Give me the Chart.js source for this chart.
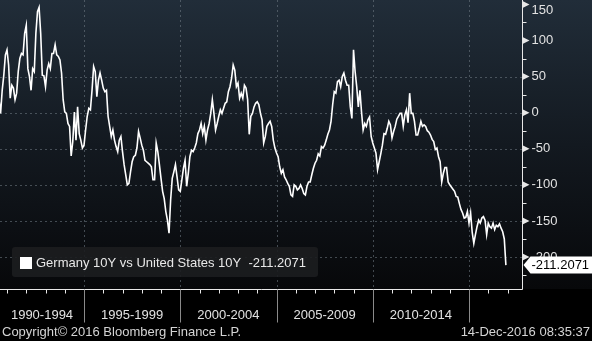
<!DOCTYPE html>
<html>
<head>
<meta charset="utf-8">
<script src="https://cdn.jsdelivr.net/npm/chart.js@4.4.1/dist/chart.umd.min.js"></script>
<style>
  html, body { margin: 0; padding: 0; background: #000; }
</style>
</head>
<body>
<canvas id="spreadChart" width="592" height="341"></canvas>
<script>
// monthly readings of the Bund - Treasury 10Y spread (bp), starting Aug 1990
const startYear = 1990;
const startMonth = 8;

const spread1990 = [18, -1, 31, 52, 80, 87, 66, 20, 38, 34, 18, 27, 57, 75, 82, 80, 110, 121, 61, 50,
  31, 61, 57, 110, 140, 146, 110, 52, 51, 36, 59, 68, 61, 82, 82, 94, 80, 78, 73, 55,
  18, 1, -1, -15, -19, -60, -40, 1, -38, 8, -29, -38, -49];
const spread1995 = [-45, -24, -5, 6, 4, 31, 64, 57, 22, 45, 55, 45, 34, 29, 31, -5, -19, -33, -24, -38,
  -47, -54, -38, -33, -54, -72, -86, -100, -98, -82, -68, -61, -59, -49, -26, -35, -45, -52, -66, -68,
  -70, -72, -75, -93, -93, -42, -54, -72, -91, -109, -119, -137, -149, -167, -121, -91, -82, -72, -89, -107];
const spread2000 = [-109, -93, -77, -66, -102, -84, -61, -52, -54, -49, -42, -29, -24, -15, -29, -19, -38, -24, -15, -1,
  18, -1, -24, -15, -5, 4, -1, 6, 13, 15, 29, 36, 48, 66, 59, 36, 41, 20, 27, 20,
  38, 34, 18, -30, -5, -1, 8, 13, 15, 11, -1, -10, -42, -33, -19, -15, -12, -19, -38, -49];
const spread2005 = [-56, -61, -75, -84, -79, -89, -93, -98, -102, -114, -116, -100, -102, -107, -105, -100, -105, -112, -114, -102,
  -96, -96, -86, -77, -70, -66, -57, -60, -47, -49, -45, -38, -30, -24, -12, 11, 29, 27, 43, 45,
  36, 50, 55, 45, 38, 38, 8, -8, 87, 57, 36, 8, 31, 1, -24, -15, -19, -10, -6, -33];
const spread2010 = [-42, -49, -56, -79, -68, -57, -45, -29, -30, -22, -12, -17, -35, -26, -19, -9, -5, -1, -1, -19,
  -3, 4, -14, 27, -1, -1, -12, -31, -31, -22, -12, -19, -17, -19, -25, -27, -31, -37, -40, -51,
  -49, -61, -68, -96, -84, -76, -76, -96, -100, -103, -106, -109, -116, -117, -126, -134, -139, -146, -145, -137];
const spread2015 = [-153, -139, -166, -181, -169, -158, -149, -153, -146, -144, -149, -169,
  -153, -158, -160, -153, -162, -156, -158, -154, -160, -165, -175, -211.2071];

const spread = [].concat(spread1990, spread1995, spread2000, spread2005, spread2010, spread2015);

const periodStarts = [1990, 1995, 2000, 2005, 2010, 2015];
const periodLabels = ["1990-1994", "1995-1999", "2000-2004", "2005-2009", "2010-2014"];
const yTicks = [150, 100, 50, 0, -50, -100, -150, -200];
const seriesName = "Germany 10Y vs United States 10Y";
const lastValue = -211.2071;
const footerLeft = "Copyright\u00A9 2016 Bloomberg Finance L.P.";
const footerRight = "14-Dec-2016 08:35:37";

const FONT = '13px "Liberation Sans", Arial, sans-serif';

function line(ctx, x1, y1, x2, y2) {
  ctx.beginPath();
  ctx.moveTo(x1, y1);
  ctx.lineTo(x2, y2);
  ctx.stroke();
}

const bloombergLook = {
  id: "bloombergLook",
  beforeDraw(chart) {
    const { ctx, chartArea: a } = chart;
    const xs = chart.scales.x, ys = chart.scales.y;
    ctx.save();
    ctx.fillStyle = "#000";
    ctx.fillRect(0, 0, chart.width, chart.height);
    const g = ctx.createLinearGradient(0, 0, 0, a.bottom);
    g.addColorStop(0, "#212d39");
    g.addColorStop(0.5, "#131920");
    g.addColorStop(1, "#07080a");
    ctx.fillStyle = g;
    ctx.fillRect(0, 0, chart.width, a.bottom);

    // dotted grid
    ctx.strokeStyle = "rgba(115,125,135,0.55)";
    ctx.lineWidth = 1;
    ctx.setLineDash([2, 3]);
    yTicks.forEach((v) => {
      if (v > 50) return;
      const y = Math.round(ys.getPixelForValue(v)) + 0.5;
      line(ctx, a.left, y, a.right, y);
    });
    periodStarts.slice(1).forEach((yr) => {
      const x = Math.round(xs.getPixelForValue(yr)) + 0.5;
      line(ctx, x, a.top, x, a.bottom);
    });
    ctx.restore();
  },
  afterDraw(chart) {
    const { ctx, chartArea: a } = chart;
    const xs = chart.scales.x, ys = chart.scales.y;
    ctx.save();
    ctx.setLineDash([]);

    // axis lines
    ctx.strokeStyle = "#e8e8e8";
    ctx.lineWidth = 1;
    const bottom = Math.round(a.bottom) + 0.5;
    const right = Math.round(a.right) + 0.5;
    line(ctx, 0, bottom, right, bottom);
    line(ctx, right, 0, right, bottom);

    // yearly ticks on x axis
    for (let yr = 1991; yr <= 2017; yr++) {
      const x = Math.round(xs.getPixelForValue(yr)) + 0.5;
      if (x > a.right) break;
      line(ctx, x, bottom, x, bottom + 4);
    }
    // period separators
    ctx.strokeStyle = "#8a8a8a";
    periodStarts.slice(1).forEach((yr) => {
      const x = Math.round(xs.getPixelForValue(yr)) + 0.5;
      line(ctx, x, bottom, x, bottom + 33);
    });

    ctx.font = FONT;
    ctx.fillStyle = "#e2e2e2";
    ctx.textAlign = "center";
    ctx.textBaseline = "middle";
    periodLabels.forEach((lab, i) => {
      const x0 = Math.max(a.left, xs.getPixelForValue(periodStarts[i]));
      const x1 = xs.getPixelForValue(periodStarts[i + 1]);
      ctx.fillText(lab, (x0 + x1) / 2, a.bottom + 26);
    });

    // y minor ticks
    ctx.strokeStyle = "#e8e8e8";
    for (let v = -225; v <= 150; v += 25) {
      if (v % 50 === 0) continue;
      const y = Math.round(ys.getPixelForValue(v)) + 0.5;
      line(ctx, right, y, right + 4, y);
    }
    // y major markers and labels
    ctx.textAlign = "left";
    yTicks.forEach((v) => {
      const y = ys.getPixelForValue(v);
      ctx.fillStyle = "#e8e8e8";
      ctx.beginPath();
      ctx.moveTo(right, y - 3.5);
      ctx.lineTo(right + 7, y);
      ctx.lineTo(right, y + 3.5);
      ctx.closePath();
      ctx.fill();
      ctx.fillStyle = "#e2e2e2";
      ctx.fillText(String(v), right + 9, Math.max(y, 10));
    });

    // last value tag
    const ly = ys.getPixelForValue(lastValue);
    ctx.fillStyle = "#ffffff";
    ctx.beginPath();
    ctx.moveTo(right + 1, ly);
    ctx.lineTo(right + 8, ly - 8.5);
    ctx.lineTo(chart.width, ly - 8.5);
    ctx.lineTo(chart.width, ly + 8.5);
    ctx.lineTo(right + 8, ly + 8.5);
    ctx.closePath();
    ctx.fill();
    ctx.fillStyle = "#000";
    ctx.fillText(lastValue.toFixed(4), right + 9, ly + 0.5);

    // legend
    ctx.fillStyle = "rgba(28,29,31,0.9)";
    ctx.beginPath();
    ctx.roundRect(12, 247, 306, 30, 3);
    ctx.fill();
    ctx.fillStyle = "#ffffff";
    ctx.fillRect(20, 257, 12, 12);
    ctx.fillStyle = "#e8e8e8";
    ctx.fillText(seriesName + "  " + lastValue.toFixed(4), 36, 263);

    // footer
    ctx.fillStyle = "#d4d4d4";
    ctx.fillText(footerLeft, 2, 332);
    ctx.textAlign = "right";
    ctx.fillText(footerRight, 590, 332);
    ctx.restore();
  },
};

const points = spread.map((v, i) => ({
  x: startYear + (startMonth - 1 + i) / 12,
  y: v,
}));

new Chart(document.getElementById("spreadChart"), {
  type: "line",
  data: {
    datasets: [
      {
        label: seriesName,
        data: points,
        borderColor: "#ffffff",
        borderWidth: 1.6,
        pointRadius: 0,
        tension: 0,
      },
    ],
  },
  options: {
    responsive: false,
    animation: false,
    devicePixelRatio: 1,
    layout: { padding: { left: 0, top: 0, right: 70, bottom: 52 } },
    plugins: { legend: { display: false }, tooltip: { enabled: false } },
    scales: {
      x: { type: "linear", min: 1990.636, max: 2017.753, display: false },
      y: { min: -244.3, max: 156.1, display: false },
    },
  },
  plugins: [bloombergLook],
});
</script>
</body>
</html>
